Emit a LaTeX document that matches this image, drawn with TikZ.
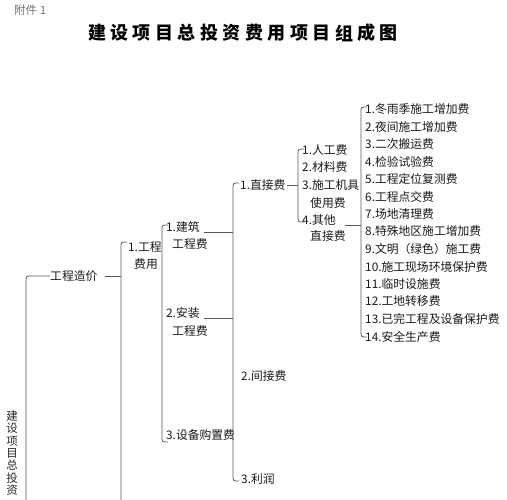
\documentclass[tikz,border=0pt]{standalone}
\usepackage{fontspec}
\setmainfont{Noto Sans CJK SC}
\usepackage{tikz}

\tikzset{
  item/.style={anchor=west, inner sep=0pt, text=black!90, font=\fontsize{11.8}{12}\selectfont},
  brk/.style={draw=black!65, line width=0.8pt}
}
% bracket: x, top y, bottom y
\newcommand{\brkt}[3]{\draw[brk] (#1+6,#2) .. controls (#1,#2) .. (#1,#2+6) -- (#1,#3-6) .. controls (#1,#3) .. (#1+6,#3);}

\begin{document}
\begin{tikzpicture}[x=1pt, y=-1pt]
    \useasboundingbox (0,0) rectangle (507,500);
    \def\rowh{17.5}
    % header
    \node[anchor=west, inner sep=0pt, text=black!55, font=\fontsize{11.5}{12}\selectfont] (fj) at (14,10) {附件 1};
    \foreach \c [count=\i] in {建,设,项,目,总,投,资,费,用,项,目,组,成,图}
        \node[inner sep=0pt, font=\fontsize{18}{18}\selectfont\bfseries] (t\i) at (97+22.46*\i-22.46,33) {\c};
    % vertical label
    \foreach \c [count=\i] in {建,设,项,目,总,投,资}
        \node[inner sep=0pt, text=black!85, font=\fontsize{11.5}{11.5}\selectfont] (v\i) at (12,404+12.3*\i) {\c};
    % bracket positions
    \coordinate (b2) at (121,0);
    \coordinate (b4) at (233,0);
    \coordinate (b5) at (298,0);
    \coordinate (b6) at (361,0);
    % level 1
    \node[item] (gczj) at (50,276) {工程造价};
    \draw[brk] (gczj.west) -- (32,276) .. controls (26,276) .. (26,282) -- (26,500);
    \draw[brk] ([xshift=7pt]gczj.east) -- (gczj.east -| b2);
    % level 2
    \draw[brk] (127,242) .. controls (121,242) .. (121,248) -- (121,500);
    \node[item] (gcf1) at (128,247) {1.工程};
    \node[item] (gcf2) at (134,264) {费用};
    % level 3
    \brkt{162}{225}{442}
    \node[item] (jz1) at (166,227) {1.建筑};
    \node[item] (jz2) at (172,244) {工程费};
    \node[item] (az1) at (166,313) {2.安装};
    \node[item] (az2) at (172,331) {工程费};
    \node[item] (sb) at (166,435) {3.设备购置费};
    \draw[brk] ([xshift=4pt]jz1.south east) -- (jz1.south east -| b4);
    \draw[brk] ([xshift=4pt]az1.south east) -- (az1.south east -| b4);
    % level 4
    \brkt{233}{183}{481}
    \node[item] (zj) at (240,185) {1.直接费};
    \node[item] (jj) at (241,376) {2.间接费};
    \node[item] (lr) at (241,479) {3.利润};
    \draw[brk] ([xshift=1pt]zj.east) -- (zj.east -| b5);
    % level 5
    \brkt{298}{149}{222}
    \node[item] (rg) at (302,150) {1.人工费};
    \node[item] (cl) at (302,167) {2.材料费};
    \node[item] (jx1) at (302,185) {3.施工机具};
    \node[item] (jx2) at (310,203) {使用费};
    \node[item] (qt1) at (302,220) {4.其他};
    \node[item] (qt2) at (310,236) {直接费};
    \draw[brk] ([xshift=9pt]qt1.south east) -- (qt1.south east -| b6);
    % level 6
    \brkt{361}{107}{337}
    \foreach \t [count=\i] in {冬雨季施工增加费,夜间施工增加费,二次搬运费,检验试验费,工程定位复测费,工程点交费,场地清理费,特殊地区施工增加费,文明（绿色）施工费,施工现场环境保护费,临时设施费,工地转移费,已完工程及设备保护费,安全生产费}
        \node[item] (cs\i) at (365,109+\rowh*\i-\rowh) {\i.\t};
\end{tikzpicture}
\end{document}
